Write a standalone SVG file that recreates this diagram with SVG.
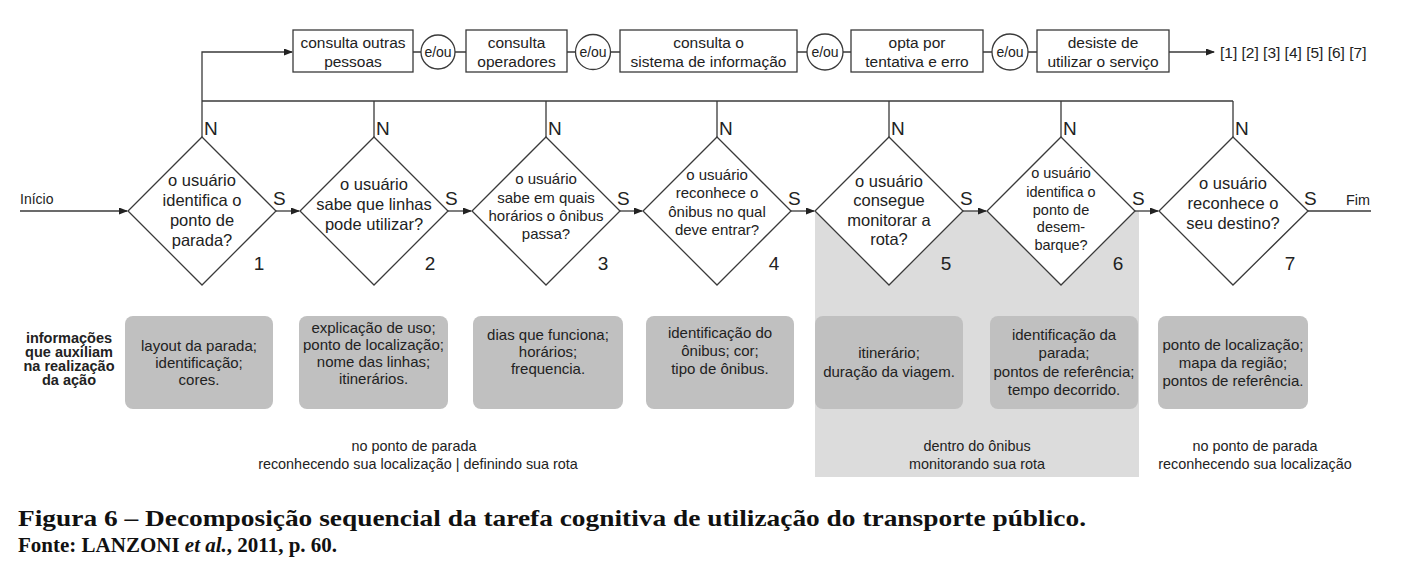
<svg xmlns="http://www.w3.org/2000/svg" width="1406" height="577" viewBox="0 0 1406 577">
<style>
text{font-family:"Liberation Sans",Arial,sans-serif;fill:#222}
.ln{stroke:#3a3a3a;stroke-width:1.3;fill:none}
.box{fill:#fff;stroke:#3a3a3a;stroke-width:1.3}
.dia{fill:#fff;stroke:#3a3a3a;stroke-width:1.3}
.tb{font-size:15.5px;text-anchor:middle}
.eo{font-size:14px;text-anchor:middle}
.dt{font-size:16.5px;text-anchor:middle}
.ns{font-size:19px}
.num{font-size:19px;text-anchor:middle}
.info{fill:#c0c0c0}
.it{font-size:15px;text-anchor:middle}
.lb{font-size:14.4px;text-anchor:middle}
.il{font-size:14.5px;font-weight:bold;text-anchor:middle}
.cap{font-family:"Liberation Serif","Times New Roman",serif;font-weight:bold;font-size:24px;fill:#111}
</style>
<defs>
<marker id="ah" markerWidth="9" markerHeight="7" refX="8" refY="3.5" orient="auto" markerUnits="userSpaceOnUse">
<path d="M0,0 L9,3.5 L0,7 z" fill="#222"/>
</marker>
</defs>
<rect width="1406" height="577" fill="#fff"/>
<rect id="shade" x="815" y="211" width="324" height="266" fill="#dcdcdc"/>

<g id="connectors">
<path class="ln" d="M202,137 V52 H292" marker-end="url(#ah)"/>
<path class="ln" d="M202,101 H1233"/>
<path class="ln" d="M374,137 V101 M546,137 V101 M717,137 V101 M889,137 V101 M1061,137 V101 M1233,137 V101"/>
<path class="ln" d="M413,52 H421 M455,52 H466 M567,52 H575 M611,52 H620 M797,52 H807 M843,52 H851 M983,52 H992 M1028,52 H1037"/>
<path class="ln" d="M1169,52 H1214" marker-end="url(#ah)"/>
<path class="ln" d="M20,211 H127" marker-end="url(#ah)"/>
<path class="ln" d="M276,211 H299" marker-end="url(#ah)"/>
<path class="ln" d="M448,211 H471" marker-end="url(#ah)"/>
<path class="ln" d="M620,211 H642" marker-end="url(#ah)"/>
<path class="ln" d="M791,211 H814" marker-end="url(#ah)"/>
<path class="ln" d="M963,211 H986" marker-end="url(#ah)"/>
<path class="ln" d="M1135,211 H1158" marker-end="url(#ah)"/>
<path class="ln" d="M1308,211 H1371"/>
</g>

<text x="20" y="204" style="font-size:14px">Início</text>
<text x="1346" y="205" style="font-size:14.4px">Fim</text>

<g id="opt1"><rect class="box" x="293" y="30" width="120" height="42"/><text class="tb" x="353" y="48">consulta outras</text><text class="tb" x="353" y="67">pessoas</text></g>
<g id="eou1"><circle class="box" cx="438" cy="52" r="17"/><text class="eo" x="438" y="57">e/ou</text></g>
<g id="opt2"><rect class="box" x="466" y="30" width="101" height="42"/><text class="tb" x="516.5" y="48">consulta</text><text class="tb" x="516.5" y="67">operadores</text></g>
<g id="eou2"><circle class="box" cx="593" cy="52" r="17.5"/><text class="eo" x="593" y="57">e/ou</text></g>
<g id="opt3"><rect class="box" x="620" y="30" width="177" height="42"/><text class="tb" x="708.5" y="48">consulta o</text><text class="tb" x="708.5" y="67">sistema de informação</text></g>
<g id="eou3"><circle class="box" cx="825" cy="52" r="18"/><text class="eo" x="825" y="57">e/ou</text></g>
<g id="opt4"><rect class="box" x="851" y="30" width="132" height="42"/><text class="tb" x="917" y="48">opta por</text><text class="tb" x="917" y="67">tentativa e erro</text></g>
<g id="eou4"><circle class="box" cx="1010" cy="52" r="18"/><text class="eo" x="1010" y="57">e/ou</text></g>
<g id="opt5"><rect class="box" x="1037" y="30" width="132" height="42"/><text class="tb" x="1103" y="48">desiste de</text><text class="tb" x="1103" y="67">utilizar o serviço</text></g>
<text x="1220" y="58" style="font-size:15.5px">[1] [2] [3] [4] [5] [6] [7]</text>

<g id="d1"><path class="dia" d="M202,137 L276,211 L202,285 L128,211 Z"/>
<text class="ns" x="204" y="135">N</text><text class="ns" x="273" y="205">S</text><text class="num" x="259" y="270">1</text>
<text class="dt" x="202" y="186">o usuário</text><text class="dt" x="202" y="206">identifica o</text><text class="dt" x="202" y="226">ponto de</text><text class="dt" x="202" y="246">parada?</text></g>

<g id="d2"><path class="dia" d="M374,137 L448,211 L374,285 L300,211 Z"/>
<text class="ns" x="376" y="135">N</text><text class="ns" x="445" y="205">S</text><text class="num" x="430" y="270">2</text>
<text class="dt" x="374" y="190">o usuário</text><text class="dt" x="374" y="210">sabe que linhas</text><text class="dt" x="374" y="230">pode utilizar?</text></g>

<g id="d3"><path class="dia" d="M546,137 L620,211 L546,285 L472,211 Z"/>
<text class="ns" x="548" y="135">N</text><text class="ns" x="617" y="205">S</text><text class="num" x="603" y="270">3</text>
<text class="dt" x="546" y="184" style="font-size:15px">o usuário</text><text class="dt" x="546" y="203" style="font-size:15px">sabe em quais</text><text class="dt" x="546" y="221" style="font-size:15px">horários o ônibus</text><text class="dt" x="546" y="239" style="font-size:15px">passa?</text></g>

<g id="d4"><path class="dia" d="M717,137 L791,211 L717,285 L643,211 Z"/>
<text class="ns" x="719" y="135">N</text><text class="ns" x="788" y="205">S</text><text class="num" x="774" y="270">4</text>
<text class="dt" x="717" y="180" style="font-size:15px">o usuário</text><text class="dt" x="717" y="198" style="font-size:15px">reconhece o</text><text class="dt" x="717" y="217" style="font-size:15px">ônibus no qual</text><text class="dt" x="717" y="235" style="font-size:15px">deve entrar?</text></g>

<g id="d5"><path class="dia" d="M889,137 L963,211 L889,285 L815,211 Z"/>
<text class="ns" x="891" y="135">N</text><text class="ns" x="960" y="205">S</text><text class="num" x="946" y="270">5</text>
<text class="dt" x="889" y="187">o usuário</text><text class="dt" x="889" y="206">consegue</text><text class="dt" x="889" y="226">monitorar a</text><text class="dt" x="889" y="245">rota?</text></g>

<g id="d6"><path class="dia" d="M1061,137 L1135,211 L1061,285 L987,211 Z"/>
<text class="ns" x="1063" y="135">N</text><text class="ns" x="1132" y="205">S</text><text class="num" x="1118" y="270">6</text>
<text class="dt" x="1061" y="178" style="font-size:14.5px">o usuário</text><text class="dt" x="1061" y="197" style="font-size:14.5px">identifica o</text><text class="dt" x="1061" y="215" style="font-size:14.5px">ponto de</text><text class="dt" x="1061" y="232" style="font-size:14.5px">desem-</text><text class="dt" x="1061" y="250" style="font-size:14.5px">barque?</text></g>

<g id="d7"><path class="dia" d="M1233,137 L1308,211 L1233,285 L1159,211 Z"/>
<text class="ns" x="1235" y="135">N</text><text class="ns" x="1304" y="205">S</text><text class="num" x="1290" y="270">7</text>
<text class="dt" x="1233" y="189">o usuário</text><text class="dt" x="1233" y="209">reconhece o</text><text class="dt" x="1233" y="229">seu destino?</text></g>

<g id="label-info"><text class="il" x="69" y="343">informações</text><text class="il" x="69" y="357">que auxiliam</text><text class="il" x="69" y="371">na realização</text><text class="il" x="69" y="385">da ação</text></g>

<g id="i1"><rect class="info" x="125" y="316" width="148" height="93" rx="8"/><text class="it" x="199" y="351">layout da parada;</text><text class="it" x="199" y="368">identificação;</text><text class="it" x="199" y="385">cores.</text></g>
<g id="i2"><rect class="info" x="299" y="316" width="149" height="93" rx="8"/><text class="it" x="373.5" y="333">explicação de uso;</text><text class="it" x="373.5" y="350">ponto de localização;</text><text class="it" x="373.5" y="367">nome das linhas;</text><text class="it" x="373.5" y="384">itinerários.</text></g>
<g id="i3"><rect class="info" x="473" y="316" width="150" height="93" rx="8"/><text class="it" x="548" y="340">dias que funciona;</text><text class="it" x="548" y="357">horários;</text><text class="it" x="548" y="374">frequencia.</text></g>
<g id="i4"><rect class="info" x="646" y="316" width="148" height="93" rx="8"/><text class="it" x="720" y="338">identificação do</text><text class="it" x="720" y="356">ônibus; cor;</text><text class="it" x="720" y="374">tipo de ônibus.</text></g>
<g id="i5"><rect class="info" x="815" y="316" width="148" height="93" rx="8"/><text class="it" x="889" y="358">itinerário;</text><text class="it" x="889" y="377">duração da viagem.</text></g>
<g id="i6"><rect class="info" x="990" y="316" width="148" height="93" rx="8"/><text class="it" x="1064" y="340">identificação da</text><text class="it" x="1064" y="358">parada;</text><text class="it" x="1064" y="377">pontos de referência;</text><text class="it" x="1064" y="395">tempo decorrido.</text></g>
<g id="i7"><rect class="info" x="1158" y="316" width="150" height="93" rx="8"/><text class="it" x="1233" y="350">ponto de localização;</text><text class="it" x="1233" y="368">mapa da região;</text><text class="it" x="1233" y="386">pontos de referência.</text></g>

<text class="lb" x="414" y="451">no ponto de parada</text>
<text class="lb" x="418" y="469">reconhecendo sua localização | definindo sua rota</text>
<text class="lb" x="977" y="451">dentro do ônibus</text>
<text class="lb" x="977" y="469">monitorando sua rota</text>
<text class="lb" x="1255" y="451">no ponto de parada</text>
<text class="lb" x="1255" y="469">reconhecendo sua localização</text>

<text class="cap" x="18" y="526" textLength="1068" lengthAdjust="spacingAndGlyphs">Figura 6 – Decomposição sequencial da tarefa cognitiva de utilização do transporte público.</text>
<text class="cap" x="18" y="552" style="font-size:21px">Fonte: LANZONI <tspan style="font-style:italic">et al.</tspan>, 2011, p. 60.</text>
</svg>
